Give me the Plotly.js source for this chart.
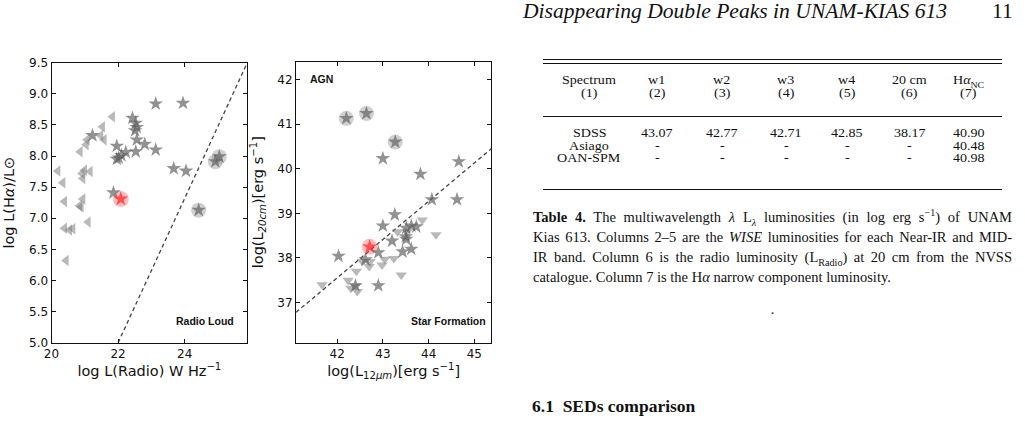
<!DOCTYPE html>
<html>
<head>
<meta charset="utf-8">
<script src="https://cdn.plot.ly/plotly-3.0.1.min.js"></script>
<style>
html,body{margin:0;padding:0;background:#fff;}
#page{position:relative;width:1025px;height:422px;overflow:hidden;background:#fff;}
#chart{position:absolute;left:0;top:0;width:1025px;height:422px;}
.tx{position:absolute;font-family:"Liberation Serif","Times New Roman",serif;color:#111;white-space:nowrap;}
.rule{position:absolute;left:543px;width:459px;height:0;border-top:1px solid #111;}
.cap{position:absolute;left:533px;width:479px;font-family:"Liberation Serif","Times New Roman",serif;color:#111;font-size:14.5px;line-height:18px;height:18px;text-align:justify;text-align-last:justify;white-space:normal;}
</style>
</head>
<body>
<div id="page">
  <div id="chart"></div>
  <div id="overlay"></div>
</div>
<script>
// ---------------- DATA ----------------
// Left panel: log L(Radio) [W/Hz] vs log L(Halpha)/Lsun
const radioTriX = [20.19,20.34,20.39,20.39,20.54,20.64,20.44,20.86,21.04,21.48,21.58,21.53,21.83,20.84,20.89,20.94,20.94,20.99,21.16,20.92,21.10,21.07];
const radioTriY = [7.76,7.57,7.27,6.84,6.81,6.83,6.32,8.07,8.18,8.33,8.26,8.47,8.63,7.20,7.18,7.31,7.64,7.77,7.75,7.72,6.94,8.26];
const radioStarX = [21.23,21.96,22.43,22.53,22.56,22.51,22.56,22.80,22.53,23.13,22.23,22.10,21.96,22.02,23.13,23.95,23.67,24.04,21.86];
const radioStarY = [8.33,8.16,8.61,8.53,8.46,8.41,8.26,8.19,8.07,8.10,8.06,8.01,7.95,7.97,8.84,8.85,7.80,7.76,7.41];
const radioCircX = [24.42,24.92,25.04];
const radioCircY = [7.13,7.91,7.99];
const radioTargetX = [22.08];
const radioTargetY = [7.31];
const radioDivX = [22.0,25.88];
const radioDivY = [5.0,9.5];

// Right panel: log L(12um) vs log L(20cm) [erg/s]
const irTriX = [41.67,42.24,42.30,42.40,42.44,42.42,42.55,42.70,42.72,42.98,43.04,43.24,43.40,43.32,43.86,44.16,43.53];
const irTriY = [37.40,37.50,37.32,37.37,37.25,37.70,37.92,37.81,37.92,37.84,37.97,37.99,37.62,38.59,38.85,38.52,38.59];
const irStarX = [42.03,42.90,42.40,42.90,43.00,43.26,43.20,43.43,43.62,43.51,43.51,43.73,43.62,43.00,43.82,44.66,44.07,44.62,42.62,43.50];
const irStarY = [38.04,37.38,37.38,38.12,38.72,38.97,38.38,38.14,38.20,38.67,38.42,38.70,38.72,40.23,39.88,40.16,39.31,39.31,37.96,38.48];
const irCircX = [42.20,42.64,43.27];
const irCircY = [41.13,41.24,40.60];
const irTargetX = [42.71];
const irTargetY = [38.25];
const irDivX = [41.1,45.37];
const irDivY = [36.78,40.45];

// Table 4
const tableHeads = ['Spectrum','w1','w2','w3','w4','20 cm','H<i>α</i><sub style="font-size:70%;line-height:0">NC</sub>'];
const tableNums = ['(1)','(2)','(3)','(4)','(5)','(6)','(7)'];
const spectra = ['SDSS','Asiago','OAN-SPM'];
const lumW1 = [43.07,null,null];
const lumW2 = [42.77,null,null];
const lumW3 = [42.71,null,null];
const lumW4 = [42.85,null,null];
const lum20cm = [38.17,null,null];
const lumHaNC = [40.90,40.48,40.98];

// ---------------- PLOT ----------------
const W = 1025, H = 422;
const tickFont = {family:'DejaVu Sans, sans-serif', size:12, color:'#111'};
const titleFont = {family:'DejaVu Sans, sans-serif', size:14.5, color:'#111'};
const triCol = 'rgba(128,128,128,0.55)';
const starCol = 'rgba(95,95,95,0.68)';
const circCol = 'rgba(150,150,150,0.45)';
const redCircCol = 'rgba(255,70,70,0.35)';
const redStarCol = 'rgba(255,40,40,0.75)';

function sc(x,y,xa,ya,marker){
  return {type:'scatter',mode:'markers',x:x,y:y,xaxis:xa,yaxis:ya,marker:marker,hoverinfo:'skip',showlegend:false,cliponaxis:true};
}
const dashLine = {color:'#444',width:1.3,dash:'4px,3px'};
const traces = [
  {type:'scatter',mode:'lines',x:radioDivX,y:radioDivY,xaxis:'x',yaxis:'y',line:dashLine,showlegend:false},
  sc(radioCircX,radioCircY,'x','y',{symbol:'circle',size:15,color:circCol}),
  sc(radioTargetX,radioTargetY,'x','y',{symbol:'circle',size:16,color:redCircCol}),
  sc(radioTriX,radioTriY,'x','y',{symbol:'triangle-left',size:10,color:triCol}),
  sc(radioStarX,radioStarY,'x','y',{symbol:'star',size:11,color:starCol}),
  sc(radioCircX,radioCircY,'x','y',{symbol:'star',size:11,color:starCol}),
  sc(radioTargetX,radioTargetY,'x','y',{symbol:'star',size:11,color:redStarCol}),

  {type:'scatter',mode:'lines',x:irDivX,y:irDivY,xaxis:'x2',yaxis:'y2',line:dashLine,showlegend:false},
  sc(irCircX,irCircY,'x2','y2',{symbol:'circle',size:15,color:circCol}),
  sc(irTargetX,irTargetY,'x2','y2',{symbol:'circle',size:16,color:redCircCol}),
  sc(irTriX,irTriY,'x2','y2',{symbol:'triangle-down',size:10,color:triCol}),
  sc(irStarX,irStarY,'x2','y2',{symbol:'star',size:11,color:starCol}),
  sc(irCircX,irCircY,'x2','y2',{symbol:'star',size:11,color:starCol}),
  sc(irTargetX,irTargetY,'x2','y2',{symbol:'star',size:11,color:redStarCol})
];

function ax(extra){
  return Object.assign({showline:true,linecolor:'#111',linewidth:1,mirror:'ticks',ticks:'inside',ticklen:4,tickwidth:1,tickcolor:'#111',
    showgrid:false,zeroline:false,tickfont:tickFont,fixedrange:true},extra);
}
const L1 = 51.5, R1 = 247.3, L2 = 296, R2 = 491.3, T1 = 62.7, T2 = 61.7, B = 342.7;
const layout = {
  width:W,height:H,margin:{l:0,r:0,t:0,b:0},paper_bgcolor:'#fff',plot_bgcolor:'#fff',showlegend:false,
  xaxis: ax({domain:[L1/W,R1/W],range:[20,25.88],tickvals:[20,22,24],anchor:'y',
    title:{text:'log L(Radio) W Hz<sup>−1</sup>',font:titleFont,standoff:3}}),
  yaxis: ax({domain:[1-B/H,1-T1/H],range:[5,9.5],dtick:0.5,tick0:5,tickformat:'.1f',anchor:'x',
    title:{text:'log L(H<i>α</i>)/L⊙',font:titleFont,standoff:10}}),
  xaxis2: ax({domain:[L2/W,R2/W],range:[41.1,45.37],tickvals:[42,43,44,45],anchor:'y2',
    title:{text:'log(L<sub>12<i>μm</i></sub>)[erg s<sup>−1</sup>]',font:titleFont,standoff:3}}),
  yaxis2: ax({domain:[1-B/H,1-T2/H],range:[36.1,42.4],tickvals:[37,38,39,40,41,42],anchor:'x2',
    title:{text:'log(L<sub><i>20cm</i></sub>)[erg s<sup>−1</sup>]',font:titleFont,standoff:10}}),
  annotations:[
    {text:'<b>Radio Loud</b>',xref:'x domain',yref:'y domain',x:0.942,y:0.0775,xanchor:'right',yanchor:'middle',showarrow:false,font:{family:'Liberation Sans, Arial, sans-serif',size:10.5,color:'#111'}},
    {text:'<b>Star Formation</b>',xref:'x2 domain',yref:'y2 domain',x:0.983,y:0.0775,xanchor:'right',yanchor:'middle',showarrow:false,font:{family:'Liberation Sans, Arial, sans-serif',size:10.5,color:'#111'}},
    {text:'<b>AGN</b>',xref:'x2 domain',yref:'y2 domain',x:0.063,y:0.938,xanchor:'left',yanchor:'middle',showarrow:false,font:{family:'Liberation Sans, Arial, sans-serif',size:10.5,color:'#111'}}
  ]
};
Plotly.newPlot('chart',traces,layout,{staticPlot:true,displayModeBar:false});

// ---------------- TEXT / TABLE ----------------
const ov = document.getElementById('overlay');
function addText(html,cx,cy,size,opts){
  opts = opts||{};
  const lh = opts.lh || Math.round(size*0.85);
  const sx = opts.sx || 1;
  const d = document.createElement('div');
  d.className='tx';
  d.innerHTML = html;
  d.style.fontSize = size+'px';
  d.style.lineHeight = lh+'px';
  d.style.height = lh+'px';
  if(opts.italic) d.style.fontStyle='italic';
  if(opts.bold) d.style.fontWeight='bold';
  if(sx!==1){d.style.transformOrigin='0 50%';d.style.transform='scaleX('+sx+')';}
  ov.appendChild(d);
  const w = d.offsetWidth*sx;
  let left;
  if(opts.align==='right') left = cx - w;
  else if(opts.align==='left') left = cx;
  else left = cx - w/2;
  d.style.left = left+'px';
  d.style.top = (cy - lh/2)+'px';
  return d;
}
function addRule(y){
  const r = document.createElement('div');
  r.className='rule';
  r.style.top = y+'px';
  ov.appendChild(r);
}
// running header
addText('Disappearing Double Peaks in UNAM-KIAS 613',947,11.5,21.6,{italic:true,align:'right',lh:19});
addText('11',1013,11.5,21.6,{align:'right',lh:19});

// table
const colX = [589.3,656.7,721.7,786,846.7,909.3,968.3];
const tOpt = {lh:11,sx:1.08};
addRule(59);
addRule(63);
addRule(116);
addRule(189);
tableHeads.forEach((h,i)=>addText(h,colX[i],79.5,13,tOpt));
tableNums.forEach((h,i)=>addText(h,colX[i],92.5,13,tOpt));
const cols = [lumW1,lumW2,lumW3,lumW4,lum20cm,lumHaNC];
spectra.forEach((s,r)=>{
  const y = 132.7 + r*12.4;
  addText(s,colX[0],y,13,tOpt);
  cols.forEach((c,i)=>addText(c[r]===null?'-':c[r].toFixed(2),colX[i+1],y,13,tOpt));
});

// caption
const capLines = [
  '<b>Table 4.</b> The multiwavelength <i>λ</i> L<sub style="font-size:70%;line-height:0"><i>λ</i></sub> luminosities (in log erg s<sup style="font-size:70%;line-height:0">−1</sup>) of UNAM',
  'Kias 613. Columns 2–5 are the <i>WISE</i> luminosities for each Near-IR and MID-',
  'IR band. Column 6 is the radio luminosity (L<sub style="font-size:70%;line-height:0">Radio</sub>) at 20 cm from the NVSS',
  'catalogue. Column 7 is the H<i>α</i> narrow component luminosity.'
];
capLines.forEach((t,i)=>{
  const d = document.createElement('div');
  d.className='cap';
  d.innerHTML = t;
  d.style.top = (208 + i*20)+'px';
  if(i===capLines.length-1){d.style.textAlign='left';d.style.textAlignLast='left';}
  ov.appendChild(d);
});
addText('.',772.7,310,14);
addText('6.1&nbsp;&nbsp;SEDs comparison',532,406,17.5,{bold:true,align:'left'});
</script>
</body>
</html>
